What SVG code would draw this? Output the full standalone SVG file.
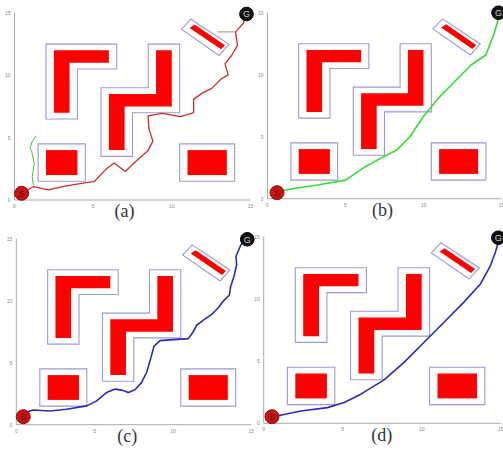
<svg xmlns="http://www.w3.org/2000/svg" xmlns:xlink="http://www.w3.org/1999/xlink" width="503" height="453" viewBox="0 0 503 453">
<style>
.ol{fill:none;stroke:#9a9ad2;stroke-width:1.1}
.ob{fill:#ff0000;stroke:none}
.ax{fill:none;stroke:#aaaaaa;stroke-width:1}
.tk{font-family:"Liberation Sans",Arial,sans-serif;font-size:5px;fill:#888888}
.cap{font-family:"Liberation Serif","Times New Roman",serif;font-size:18px;fill:#333333;text-anchor:middle}
.s{fill:#cc1111;stroke:#881111;stroke-width:1}
.g{fill:#111111;stroke:#000000;stroke-width:1}
.sl{font-family:"Liberation Sans",Arial,sans-serif;font-size:9px;fill:#551111;text-anchor:middle}
.gl{font-family:"Liberation Sans",Arial,sans-serif;font-size:9px;fill:#cccccc;text-anchor:middle}
.p{fill:none;stroke-linejoin:round;stroke-linecap:round}
*{vector-effect:non-scaling-stroke}
</style>
<defs>
<g id="map">
<polygon class="ol" points="2,6.5 2,12.5 6.5,12.5 6.5,10.5 4,10.5 4,6.5"/>
<polygon class="ol" points="5.5,3.5 5.5,9 8.5,9 8.5,12.5 10.5,12.5 10.5,7 7.5,7 7.5,3.5"/>
<rect class="ol" x="1.5" y="1.5" width="3" height="3"/>
<rect class="ol" x="10.5" y="1.5" width="3.5" height="3"/>
<polygon class="ol" points="10.61,13.69 11.22,14.5 13.64,12.48 13.0,11.59"/>
<polygon class="ob" points="2.5,7 2.5,12 6,12 6,11 3.5,11 3.5,7"/>
<polygon class="ob" points="6,4 6,8.5 9,8.5 9,12 10,12 10,7.5 7,7.5 7,4"/>
<rect class="ob" x="2" y="2" width="2" height="2"/>
<rect class="ob" x="11" y="2" width="2.5" height="2"/>
<polygon class="ob" points="11.13,13.8 11.45,14.07 13.38,12.4 13.13,12.08"/>
<polyline class="ax" points="0,15 0,0 15,0"/>
</g>
</defs>

<g id="panel-a" transform="translate(14.5,200)">
<g transform="scale(15.73,-12.47)">
<use xlink:href="#map"/>
<line x1="12.9" y1="13.48" x2="14.05" y2="13.48" stroke="#b08080" stroke-width="1"/>
<polyline class="p" stroke="#33cc33" stroke-width="1" points="1.2,1.21 1.13,1.89 1.26,2.96 1.09,3.9 0.99,4.18 1.13,4.72 1.36,5.12"/>
<polyline class="p" stroke="#d02a2a" stroke-width="1.3" points="0.46,0.54 1.2,1.08 2.14,0.81 3.3,1.13 4.56,1.4 5.08,1.48 5.82,2.48 6.34,2.96 7.04,2.29 7.82,3.23 8.45,3.9 8.8,4.72 8.55,5.66 8.49,6.74 9.39,6.95 10.55,6.68 11.39,7.0 11.39,8.09 12.02,8.63 12.54,8.95 13.13,9.7 13.59,10.03 13.38,10.92 13.8,11.59 14.18,12.4 14.05,13.48 14.54,14.15 14.75,14.96"/>
</g>
<g class="tk">
<text x="-4" y="2" text-anchor="end">0</text><text x="-4" y="-60.4" text-anchor="end">5</text><text x="-4" y="-122.7" text-anchor="end">10</text><text x="-4" y="-185" text-anchor="end">15</text>
<text x="0" y="8" text-anchor="middle">0</text><text x="78.7" y="8" text-anchor="middle">5</text><text x="157.3" y="8" text-anchor="middle">10</text><text x="236" y="8" text-anchor="middle">15</text>
</g>
<circle class="s" cx="7.2" cy="-6.7" r="7"/><text class="sl" x="7.2" y="-3.5">S</text>
<circle class="g" cx="232" cy="-186" r="6.8"/><text class="gl" x="232" y="-182.8">G</text>
<text class="cap" x="110" y="17" font-family="Liberation Serif, serif">(a)</text>
</g>

<g id="panel-b" transform="translate(267.5,198.7)">
<g transform="scale(15.6,-12.4)">
<use xlink:href="#map"/>
<polyline class="p" stroke="#33dd33" stroke-width="1.6" points="0.66,0.56 1.5,0.78 3.2,1.1 5.0,1.5 6.27,2.58 7.44,3.39 8.28,3.92 9.13,5.0 9.98,6.61 11.04,8.23 12.1,9.57 13.05,10.78 14.0,11.59 14.53,13.33 14.9,14.95"/>
</g>
<g class="tk">
<text x="-4" y="2" text-anchor="end">0</text><text x="-4" y="-60" text-anchor="end">5</text><text x="-4" y="-122" text-anchor="end">10</text><text x="-4" y="-184" text-anchor="end">15</text>
<text x="0" y="8" text-anchor="middle">0</text><text x="78" y="8" text-anchor="middle">5</text><text x="156" y="8" text-anchor="middle">10</text><text x="234" y="8" text-anchor="middle">15</text>
</g>
<circle class="s" cx="9.5" cy="-6" r="7"/><text class="sl" x="9.5" y="-2.8">S</text>
<circle class="g" cx="231" cy="-186" r="6.8"/><text class="gl" x="231" y="-182.8">G</text>
<text class="cap" x="115" y="17" font-family="Liberation Serif, serif">(b)</text>
</g>

<g id="panel-c" transform="translate(16.3,424.7)">
<g transform="scale(15.67,-12.4)">
<use xlink:href="#map"/>
<polyline class="p" stroke="#2a2ab8" stroke-width="1.6" points="0.55,0.98 1.09,1.19 2.15,1.11 3.21,1.25 4.49,1.52 5.13,1.92 5.77,2.6 6.3,2.87 6.72,2.79 7.15,2.6 7.57,2.82 8.0,3.41 8.32,4.23 8.57,5.31 8.79,6.34 9.17,6.78 10.02,6.86 10.98,6.94 11.26,7.43 11.51,8.02 11.94,8.43 12.47,8.89 12.89,9.43 13.21,9.97 13.6,10.46 13.68,11.14 13.89,11.95 14.06,12.9 14.02,13.58 14.32,14.47 14.74,15.12"/>
</g>
<g class="tk">
<text x="-4" y="2" text-anchor="end">0</text><text x="-4" y="-60" text-anchor="end">5</text><text x="-4" y="-122" text-anchor="end">10</text><text x="-4" y="-184" text-anchor="end">15</text>
<text x="0" y="8" text-anchor="middle">0</text><text x="78.4" y="8" text-anchor="middle">5</text><text x="156.7" y="8" text-anchor="middle">10</text><text x="235" y="8" text-anchor="middle">15</text>
</g>
<circle class="s" cx="7" cy="-8" r="7"/><text class="sl" x="7" y="-4.8">S</text>
<circle class="g" cx="231" cy="-185.4" r="6.8"/><text class="gl" x="231" y="-182.2">G</text>
<text class="cap" x="111" y="17" font-family="Liberation Serif, serif">(c)</text>
</g>

<g id="panel-d" transform="translate(263.7,423.3)">
<g transform="scale(15.8,-12.45)">
<use xlink:href="#map"/>
<polyline class="p" stroke="#2a2ab8" stroke-width="1.6" points="0.67,0.54 2.36,0.99 4.04,1.26 5.09,1.67 6.15,2.34 7.62,3.49 8.88,4.89 10.15,6.51 11.41,8.12 12.67,9.73 13.73,11.21 14.36,12.69 14.67,13.76 14.95,14.97"/>
</g>
<g class="tk">
<text x="-4" y="2" text-anchor="end">0</text><text x="-4" y="-60.2" text-anchor="end">5</text><text x="-4" y="-122.5" text-anchor="end">10</text><text x="-4" y="-184.7" text-anchor="end">15</text>
<text x="0" y="8" text-anchor="middle">0</text><text x="79" y="8" text-anchor="middle">5</text><text x="158" y="8" text-anchor="middle">10</text><text x="237" y="8" text-anchor="middle">15</text>
</g>
<circle class="s" cx="8.3" cy="-6.6" r="7"/><text class="sl" x="8.3" y="-3.4">S</text>
<circle class="g" cx="234.6" cy="-185.6" r="6.8"/><text class="gl" x="234.6" y="-182.4">G</text>
<text class="cap" x="118" y="18" font-family="Liberation Serif, serif">(d)</text>
</g>
</svg>
